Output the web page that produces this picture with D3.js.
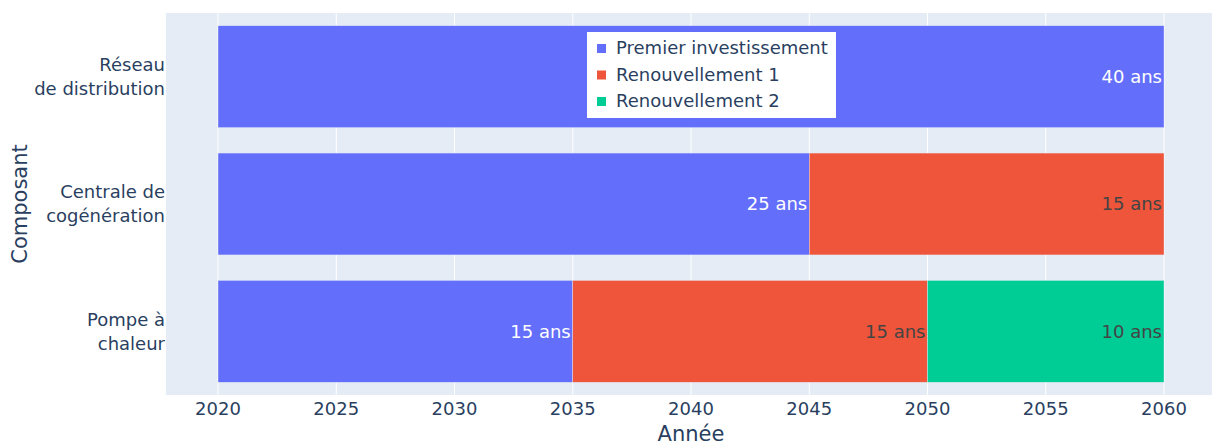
<!DOCTYPE html>
<html>
<head>
<meta charset="utf-8">
<script src="https://cdn.jsdelivr.net/npm/d3@7"></script>
<style>
  body { margin: 0; background: #fff; }
  svg text { font-family: "DejaVu Sans", sans-serif; }
</style>
</head>
<body>
<svg width="1212" height="446"></svg>
<script>
// components (y categories), drawn top to bottom
var categories = ["Réseau de distribution", "Centrale de cogénération", "Pompe à chaleur"];
var catLines = [["Réseau", "de distribution"], ["Centrale de", "cogénération"], ["Pompe à", "chaleur"]];
var startYear = 2020;
// durations in years
var seriesNames = ["Premier investissement", "Renouvellement 1", "Renouvellement 2"];
var premier = [40, 25, 15];
var renouv1 = [0, 15, 15];
var renouv2 = [0, 0, 10];
var xTicks = [2020, 2025, 2030, 2035, 2040, 2045, 2050, 2055, 2060];
var colors = ["#636efa", "#EF553B", "#00cc96"];
var textColors = ["#ffffff", "#444444", "#444444"];

var svg = d3.select("svg"),
    margin = { top: 13, right: 0, bottom: 51, left: 166 },
    width = +svg.attr("width") - margin.left - margin.right,
    height = +svg.attr("height") - margin.top - margin.bottom;

var x = d3.scaleLinear()
    .domain([2017.8, 2062.03])
    .range([0, width]);

var y = d3.scaleBand()
    .domain(categories)
    .range([0, height])
    .paddingInner(0.2)
    .paddingOuter(0.1);

var g = svg.append("g")
    .attr("transform", "translate(" + margin.left + "," + margin.top + ")");

g.append("rect")
    .attr("width", width)
    .attr("height", height)
    .attr("fill", "#E5ECF6");

// grid
g.selectAll(".grid")
    .data(xTicks)
    .enter()
  .append("line")
    .attr("x1", d => x(d))
    .attr("x2", d => x(d))
    .attr("y1", 0)
    .attr("y2", height)
    .attr("stroke", "#fff")
    .attr("stroke-width", 1);

// build stacked segments
var allSeries = [premier, renouv1, renouv2];
var segs = [];
categories.forEach(function (c, i) {
    var base = startYear;
    allSeries.forEach(function (s, k) {
        if (s[i] > 0) {
            segs.push({ cat: c, k: k, x0: base, x1: base + s[i], val: s[i] });
        }
        base += s[i];
    });
});

g.selectAll(".bar")
    .data(segs)
    .enter()
  .append("rect")
    .attr("class", "bar")
    .attr("x", d => x(d.x0))
    .attr("y", d => y(d.cat))
    .attr("width", d => x(d.x1) - x(d.x0))
    .attr("height", y.bandwidth())
    .attr("fill", d => colors[d.k])
    .attr("stroke", "rgba(229,236,246,0.8)")
    .attr("stroke-width", 0.5);

g.selectAll(".lbl")
    .data(segs)
    .enter()
  .append("text")
    .attr("x", d => x(d.x1) - 2)
    .attr("y", d => y(d.cat) + y.bandwidth() / 2)
    .attr("dy", "0.35em")
    .attr("text-anchor", "end")
    .style("font-size", "18px")
    .attr("fill", d => textColors[d.k])
    .text(d => d.val + " ans");

// x axis tick labels
g.selectAll(".xtick")
    .data(xTicks)
    .enter()
  .append("text")
    .attr("x", d => x(d))
    .attr("y", height + 20)
    .attr("text-anchor", "middle")
    .style("font-size", "18px")
    .attr("fill", "#2a3f5f")
    .text(d => d);

// y tick labels
categories.forEach(function (c, i) {
    var t = g.append("text")
        .attr("text-anchor", "end")
        .style("font-size", "18px")
        .attr("fill", "#2a3f5f");
    catLines[i].forEach(function (line, j) {
        t.append("tspan")
            .attr("x", -1)
            .attr("y", y(c) + y.bandwidth() / 2 - 12 + j * 24)
            .attr("dy", "0.35em")
            .text(line);
    });
});

// axis titles
svg.append("text")
    .attr("x", margin.left + x(2040))
    .attr("y", 441)
    .attr("text-anchor", "middle")
    .style("font-size", "21px")
    .attr("fill", "#2a3f5f")
    .text("Année");

svg.append("text")
    .attr("transform", "translate(27," + (margin.top + height / 2) + ") rotate(-90)")
    .attr("text-anchor", "middle")
    .style("font-size", "21px")
    .attr("fill", "#2a3f5f")
    .text("Composant");

// legend
var lg = svg.append("g").attr("transform", "translate(587,32)");
lg.append("rect")
    .attr("width", 249)
    .attr("height", 86)
    .attr("fill", "#fff");
seriesNames.forEach(function (n, i) {
    var row = lg.append("g").attr("transform", "translate(0," + (16 + i * 26.5) + ")");
    row.append("rect")
        .attr("x", 10)
        .attr("y", -4)
        .attr("width", 9)
        .attr("height", 9)
        .attr("fill", colors[i]);
    row.append("text")
        .attr("x", 29)
        .attr("dy", "0.35em")
        .style("font-size", "18px")
        .attr("fill", "#2a3f5f")
        .text(n);
});
</script>
</body>
</html>
